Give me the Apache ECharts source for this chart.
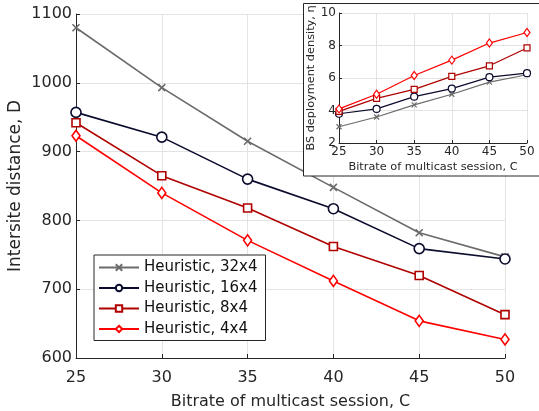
<!DOCTYPE html>
<html><head><meta charset="utf-8">
<script src="https://cdn.jsdelivr.net/npm/echarts@6/dist/echarts.min.js"></script>
<style>html,body{margin:0;padding:0;background:#fff}#c{width:539px;height:411px}</style>
</head><body><div id="c"></div>
<script>
const bitrates = [25, 30, 35, 40, 45, 50];
const names = ['Heuristic, 32x4', 'Heuristic, 16x4', 'Heuristic, 8x4', 'Heuristic, 4x4'];
const dist32 = [1080, 993, 915, 848, 782, 747];
const dist16 = [957, 921, 860, 817, 759, 744];
const dist8 = [942, 865, 818, 762, 720, 663];
const dist4 = [923, 840, 771, 712, 654, 627];
const dens32 = [3.0, 3.6, 4.35, 5.0, 5.75, 6.2];
const dens16 = [3.8, 4.1, 4.85, 5.35, 6.05, 6.3];
const dens8 = [3.95, 4.75, 5.3, 6.1, 6.75, 7.85];
const dens4 = [4.1, 5.0, 6.15, 7.1, 8.15, 8.8];
const mainTicks = [600, 700, 800, 900, 1000, 1100];
const insetTicks = [2, 4, 6, 8, 10];

const colors = ['#6b6b6b', '#0b0b2e', '#b00000', '#ff0000'];
const symbols = ['path://M0,0L10,10M0,10L10,0', 'circle', 'rect', 'path://M5,0L10,7L5,14L0,7Z'];
const mainSizes = [7, 10, 8, [8, 11]];
const insetSizes = [5, 7, 6, [6, 8]];
const distData = [dist32, dist16, dist8, dist4];
const densData = [dens32, dens16, dens8, dens4];
const FONT = 'DejaVu Sans';
const axisCol = '#262626';

function pairs(arr) { return bitrates.map((x, i) => [x, arr[i]]); }

const series = [];
for (let k = 0; k < 4; k++) {
  series.push({
    name: names[k], type: 'line', xAxisIndex: 0, yAxisIndex: 0,
    data: pairs(distData[k]), symbol: symbols[k], symbolSize: mainSizes[k],
    showAllSymbol: true, animation: false, z: 2,
    lineStyle: { color: colors[k], width: 1.6 },
    itemStyle: { color: '#fff', borderColor: colors[k], borderWidth: 1.6 }
  });
}
for (let k = 0; k < 4; k++) {
  series.push({
    name: names[k] + ' ', type: 'line', xAxisIndex: 1, yAxisIndex: 1,
    data: pairs(densData[k]), symbol: symbols[k], symbolSize: insetSizes[k],
    showAllSymbol: true, animation: false, z: 12,
    lineStyle: { color: colors[k], width: 1.2 },
    itemStyle: { color: '#fff', borderColor: colors[k], borderWidth: 1.2 }
  });
}

const chart = echarts.init(document.getElementById('c'), null, { renderer: 'canvas' });
chart.setOption({
  animation: false,
  backgroundColor: '#fff',
  textStyle: { fontFamily: FONT },
  grid: [
    { left: 76, top: 14, width: 429, height: 344, containLabel: false, outerBoundsMode: 'none' },
    { left: 339, top: 13, width: 188, height: 130, z: 10, containLabel: false, outerBoundsMode: 'none' }
  ],
  graphic: [{
    type: 'rect', z: 8, silent: true,
    shape: { x: 303.5, y: 3.5, width: 240, height: 172.5 },
    style: { fill: '#fff', stroke: axisCol, lineWidth: 1 }
  }],
  legend: {
    data: names, left: 94, top: 255, orient: 'vertical',
    backgroundColor: '#fff', borderColor: axisCol, borderWidth: 1,
    padding: [5, 8, 4, 4], itemGap: 5.5, itemWidth: 40, itemHeight: 8,
    textStyle: { fontFamily: FONT, fontSize: 15, color: '#111', lineHeight: 15 }, z: 20
  },
  xAxis: [{
    type: 'value', gridIndex: 0, min: 25, max: 50, interval: 5,
    name: 'Bitrate of multicast session, C', nameLocation: 'middle', nameGap: 36,
    nameTextStyle: { fontFamily: FONT, fontSize: 16, color: axisCol },
    axisLine: { show: true, lineStyle: { color: axisCol, width: 1 } },
    axisTick: { show: true, inside: true, length: 4, lineStyle: { color: axisCol } },
    axisLabel: { fontFamily: FONT, fontSize: 16, color: axisCol, margin: 12 },
    splitLine: { show: true, lineStyle: { color: '#e3e3e3', width: 1 } }
  }, {
    type: 'value', gridIndex: 1, min: 25, max: 50, interval: 5, z: 10,
    name: 'Bitrate of multicast session, C', nameLocation: 'middle', nameGap: 19,
    nameTextStyle: { fontFamily: FONT, fontSize: 11.3, color: axisCol },
    axisLine: { show: true, lineStyle: { color: axisCol, width: 1 } },
    axisTick: { show: true, inside: true, length: 3, lineStyle: { color: axisCol } },
    axisLabel: { fontFamily: FONT, fontSize: 12, color: axisCol, margin: 3 },
    splitLine: { show: true, lineStyle: { color: '#e3e3e3', width: 1 } }
  }],
  yAxis: [{
    type: 'value', gridIndex: 0, min: mainTicks[0], max: mainTicks[mainTicks.length - 1], interval: 100,
    name: 'Intersite distance, D', nameLocation: 'middle', nameGap: 52, nameMoveOverlap: false,
    nameTextStyle: { fontFamily: FONT, fontSize: 17, color: axisCol },
    axisLine: { show: true, lineStyle: { color: axisCol, width: 1 } },
    axisTick: { show: true, inside: true, length: 4, lineStyle: { color: axisCol } },
    axisLabel: { fontFamily: FONT, fontSize: 16, color: axisCol, margin: 4, formatter: v => String(v) },
    splitLine: { show: true, lineStyle: { color: '#e3e3e3', width: 1 } }
  }, {
    type: 'value', gridIndex: 1, min: insetTicks[0], max: insetTicks[insetTicks.length - 1], interval: 2, z: 10,
    name: 'BS deployment density, η', nameLocation: 'middle', nameGap: 21,
    nameTextStyle: { fontFamily: FONT, fontSize: 11.3, color: axisCol },
    axisLine: { show: true, lineStyle: { color: axisCol, width: 1 } },
    axisTick: { show: true, inside: true, length: 3, lineStyle: { color: axisCol } },
    axisLabel: { fontFamily: FONT, fontSize: 12, color: axisCol, margin: 3 },
    splitLine: { show: true, lineStyle: { color: '#e3e3e3', width: 1 } }
  }],
  series: series
});
</script></body></html>
